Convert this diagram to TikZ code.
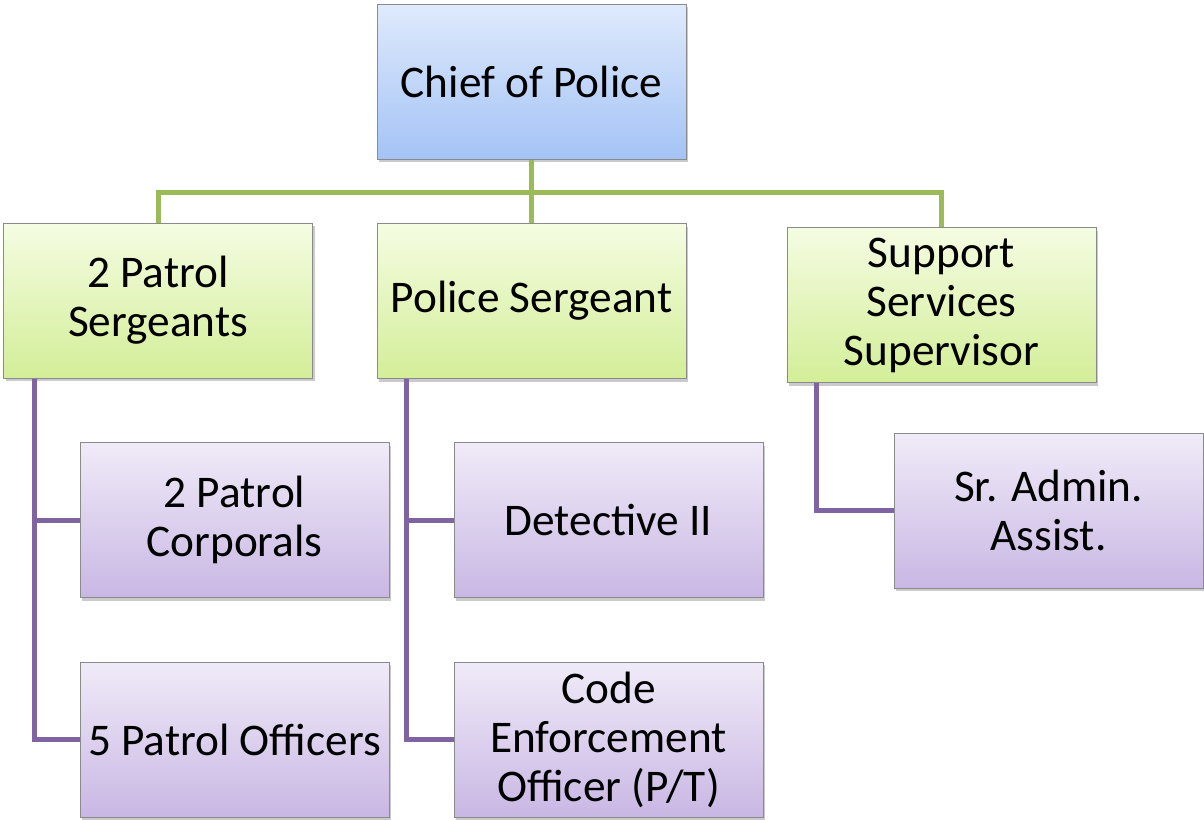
\documentclass[tikz,border=0pt]{standalone}
\usepackage{fontspec}
\setmainfont{Carlito}
\usetikzlibrary{shadows}

\definecolor{boxedge}{HTML}{8A8A8A}
\definecolor{blueTop}{HTML}{DFEAFC}
\definecolor{blueBot}{HTML}{A4C3F5}
\definecolor{greenTop}{HTML}{F5FCE2}
\definecolor{greenBot}{HTML}{D3EE98}
\definecolor{purpleTop}{HTML}{F0EBF8}
\definecolor{purpleBot}{HTML}{C9B7E4}
\definecolor{greenLine}{HTML}{9BBB59}
\definecolor{purpleLine}{HTML}{8064A2}

\tikzset{
  orgbox/.style={rectangle, draw=boxedge, line width=1pt,
    minimum width=309pt, minimum height=155pt, inner sep=0pt,
    align=center, font=\fontsize{45.3}{49}\selectfont,
    drop shadow={shadow xshift=2pt, shadow yshift=-3pt, opacity=0.35, fill=black!60}},
  chiefbox/.style={orgbox, top color=blueTop, bottom color=blueBot},
  leadbox/.style={orgbox, top color=greenTop, bottom color=greenBot},
  staffbox/.style={orgbox, top color=purpleTop, bottom color=purpleBot},
  upperlink/.style={draw=greenLine, line width=5pt},
  lowerlink/.style={draw=purpleLine, line width=5pt},
}

\begin{document}
\begin{tikzpicture}[x=1pt, y=-1pt]
\useasboundingbox (0,0) rectangle (1204,819);

% top level
\node[chiefbox] (chief) at (531.5,81.5) {Chief of Police};

% supervisors
\node[leadbox] (sgtA) at (158,300.5) {2 Patrol\\Sergeants};
\node[leadbox] (sgtB) at (531.5,301) {Police Sergeant};
\node[leadbox] (sup)  at (941.5,305) {Support\\Services\\Supervisor};

% staff
\node[staffbox] (corp) at (234.5,520)   {2 Patrol\\Corporals};
\node[staffbox] (offc) at (234.5,739.5) {5 Patrol Officers};
\node[staffbox] (det)  at (608.5,520)   {Detective II};
\node[staffbox] (code) at (608.5,739.5) {Code\\Enforcement\\Officer (P/T)};
\node[staffbox] (adm)  at (1048.5,510.5) {Sr. Admin.\\Assist.};

% chief to supervisors
\draw[upperlink] (chief.south) -- ++(0,33) -| (sgtA.north);
\draw[upperlink] (chief.south) -- ++(0,33) -| (sup.north);
\draw[upperlink] (chief.south) -- (sgtB.north);

% supervisors to staff
\draw[lowerlink] (sgtA.south west) ++(31,0) |- (corp.west);
\draw[lowerlink] (sgtA.south west) ++(31,0) |- (offc.west);
\draw[lowerlink] (sgtB.south west) ++(30,0) |- (det.west);
\draw[lowerlink] (sgtB.south west) ++(30,0) |- (code.west);
\draw[lowerlink] (sup.south west) ++(30,0) |- (adm.west);
\end{tikzpicture}
\end{document}
